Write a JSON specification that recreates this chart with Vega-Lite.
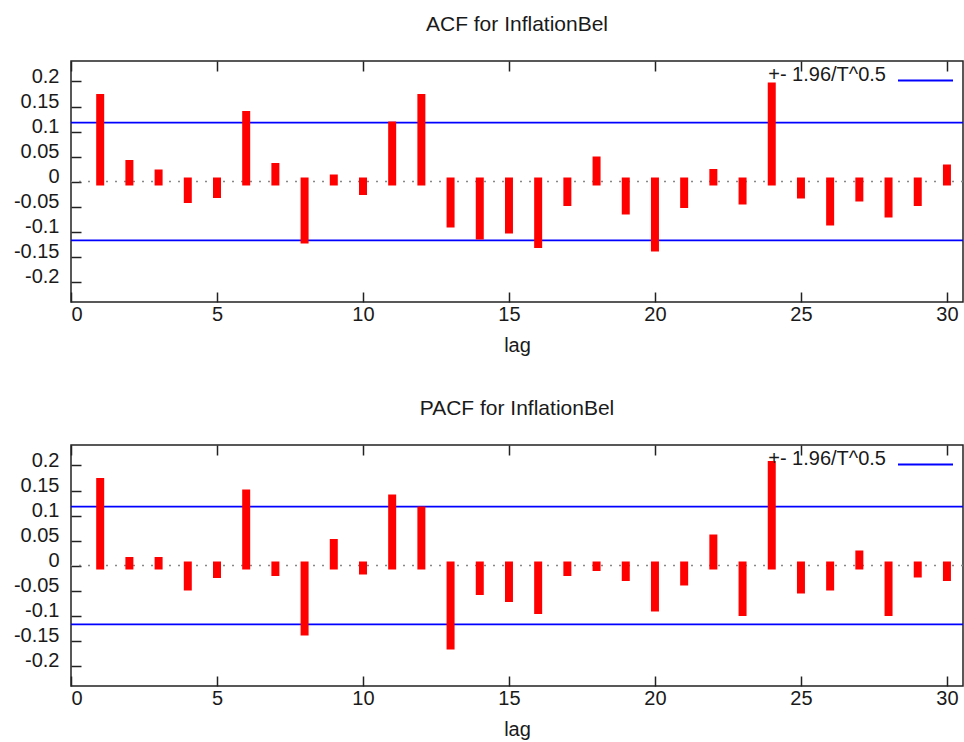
{
  "$schema": "https://vega.github.io/schema/vega-lite/v6.json",
  "background": "white",
  "padding": {"left": 12, "top": 13, "right": 2, "bottom": 2},
  "datasets": {
    "lags": [
      {"lag": 1, "acf": 0.167, "pacf": 0.167},
      {"lag": 2, "acf": 0.035, "pacf": 0.009},
      {"lag": 3, "acf": 0.016, "pacf": 0.009},
      {"lag": 4, "acf": -0.035, "pacf": -0.042},
      {"lag": 5, "acf": -0.025, "pacf": -0.017},
      {"lag": 6, "acf": 0.133, "pacf": 0.144},
      {"lag": 7, "acf": 0.029, "pacf": -0.013},
      {"lag": 8, "acf": -0.116, "pacf": -0.132},
      {"lag": 9, "acf": 0.006, "pacf": 0.045},
      {"lag": 10, "acf": -0.019, "pacf": -0.010},
      {"lag": 11, "acf": 0.112, "pacf": 0.134},
      {"lag": 12, "acf": 0.167, "pacf": 0.110},
      {"lag": 13, "acf": -0.084, "pacf": -0.160},
      {"lag": 14, "acf": -0.108, "pacf": -0.051},
      {"lag": 15, "acf": -0.096, "pacf": -0.065},
      {"lag": 16, "acf": -0.125, "pacf": -0.089},
      {"lag": 17, "acf": -0.041, "pacf": -0.013},
      {"lag": 18, "acf": 0.042, "pacf": -0.003},
      {"lag": 19, "acf": -0.058, "pacf": -0.023},
      {"lag": 20, "acf": -0.132, "pacf": -0.084},
      {"lag": 21, "acf": -0.045, "pacf": -0.032},
      {"lag": 22, "acf": 0.017, "pacf": 0.054},
      {"lag": 23, "acf": -0.038, "pacf": -0.093},
      {"lag": 24, "acf": 0.190, "pacf": 0.201},
      {"lag": 25, "acf": -0.026, "pacf": -0.048},
      {"lag": 26, "acf": -0.080, "pacf": -0.042},
      {"lag": 27, "acf": -0.032, "pacf": 0.022},
      {"lag": 28, "acf": -0.064, "pacf": -0.093},
      {"lag": 29, "acf": -0.041, "pacf": -0.016},
      {"lag": 30, "acf": 0.026, "pacf": -0.023}
    ],
    "bands": [
      {"band": "+- 1.96/T^0.5", "y": 0.1178},
      {"band": "+- 1.96/T^0.5", "y": -0.1178}
    ],
    "zero": [{"z": 0}]
  },
  "config": {
    "font": "Liberation Sans",
    "view": {"stroke": "#222", "strokeWidth": 1.5},
    "axis": {
      "labelFontSize": 20,
      "labelColor": "#1a1a1a",
      "labelOverlap": false,
      "titleFontSize": 20,
      "titleFontWeight": "normal",
      "titleColor": "#1a1a1a",
      "tickColor": "#222",
      "tickWidth": 1.5,
      "tickSize": -10,
      "domain": false,
      "grid": false,
      "minExtent": 0
    },
    "title": {"fontSize": 21, "fontWeight": "normal", "color": "#1a1a1a"},
    "legend": {
      "orient": "none",
      "legendX": 826,
      "legendY": -9,
      "symbolType": "stroke",
      "symbolSize": 3025,
      "symbolStrokeWidth": 1.8,
      "labelFontSize": 20,
      "labelColor": "#1a1a1a",
      "labelAlign": "right",
      "labelBaseline": "alphabetic",
      "labelOffset": -68,
      "padding": 0
    }
  },
  "spacing": 41,
  "resolve": {"scale": {"color": "independent"}, "legend": {"color": "independent"}},
  "vconcat": [
    {
      "title": {"text": "ACF for InflationBel", "baseline": "alphabetic", "offset": 0},
      "width": 892,
      "height": 241,
      "resolve": {"axis": {"x": "independent"}},
      "layer": [
        {
          "data": {"name": "zero"},
          "mark": {"type": "rule", "color": "#888", "strokeDash": [2, 7], "strokeWidth": 1.5},
          "encoding": {
            "y": {"field": "z", "type": "quantitative", "scale": {"domain": [-0.241, 0.241], "nice": false, "zero": false},
              "axis": {"title": null, "values": [-0.2, -0.15, -0.1, -0.05, 0, 0.05, 0.1, 0.15, 0.2], "labelExpr": "datum.value + ''", "labelPadding": 22, "labelOffset": -5}}
          }
        },
        {
          "data": {"name": "bands"},
          "mark": {"type": "rule", "strokeWidth": 1.8},
          "encoding": {
            "y": {"field": "y", "type": "quantitative",
              "axis": {"title": null, "values": [-0.2, -0.15, -0.1, -0.05, 0, 0.05, 0.1, 0.15, 0.2], "labelExpr": "datum.value + ''", "labelPadding": 22, "labelOffset": -5}},
            "x": {"datum": 0, "type": "quantitative", "scale": {"domain": [0, 30.55], "nice": false, "zero": false},
              "axis": {"orient": "top", "labels": false, "title": null, "values": [0, 5, 10, 15, 20, 25, 30]}},
            "x2": {"datum": 30.55},
            "color": {"field": "band", "type": "nominal", "scale": {"range": ["#0000ff"]}, "legend": {"title": null}}
          }
        },
        {
          "data": {"name": "lags"},
          "mark": {"type": "rule", "color": "#ff0000", "strokeWidth": 8, "strokeCap": "square"},
          "encoding": {
            "x": {"field": "lag", "type": "quantitative", "scale": {"domain": [0, 30.55], "nice": false, "zero": false},
              "axis": {"orient": "bottom", "title": "lag", "values": [0, 5, 10, 15, 20, 25, 30], "labelPadding": 12, "titlePadding": 11}},
            "y": {"field": "acf", "type": "quantitative",
              "axis": {"title": null, "values": [-0.2, -0.15, -0.1, -0.05, 0, 0.05, 0.1, 0.15, 0.2], "labelExpr": "datum.value + ''", "labelPadding": 22, "labelOffset": -5}},
            "y2": {"datum": 0}
          }
        }
      ]
    },
    {
      "title": {"text": "PACF for InflationBel", "baseline": "alphabetic", "offset": 0},
      "width": 892,
      "height": 241,
      "resolve": {"axis": {"x": "independent"}},
      "layer": [
        {
          "data": {"name": "zero"},
          "mark": {"type": "rule", "color": "#888", "strokeDash": [2, 7], "strokeWidth": 1.5},
          "encoding": {
            "y": {"field": "z", "type": "quantitative", "scale": {"domain": [-0.241, 0.241], "nice": false, "zero": false},
              "axis": {"title": null, "values": [-0.2, -0.15, -0.1, -0.05, 0, 0.05, 0.1, 0.15, 0.2], "labelExpr": "datum.value + ''", "labelPadding": 22, "labelOffset": -5}}
          }
        },
        {
          "data": {"name": "bands"},
          "mark": {"type": "rule", "strokeWidth": 1.8},
          "encoding": {
            "y": {"field": "y", "type": "quantitative",
              "axis": {"title": null, "values": [-0.2, -0.15, -0.1, -0.05, 0, 0.05, 0.1, 0.15, 0.2], "labelExpr": "datum.value + ''", "labelPadding": 22, "labelOffset": -5}},
            "x": {"datum": 0, "type": "quantitative", "scale": {"domain": [0, 30.55], "nice": false, "zero": false},
              "axis": {"orient": "top", "labels": false, "title": null, "values": [0, 5, 10, 15, 20, 25, 30]}},
            "x2": {"datum": 30.55},
            "color": {"field": "band", "type": "nominal", "scale": {"range": ["#0000ff"]}, "legend": {"title": null}}
          }
        },
        {
          "data": {"name": "lags"},
          "mark": {"type": "rule", "color": "#ff0000", "strokeWidth": 8, "strokeCap": "square"},
          "encoding": {
            "x": {"field": "lag", "type": "quantitative", "scale": {"domain": [0, 30.55], "nice": false, "zero": false},
              "axis": {"orient": "bottom", "title": "lag", "values": [0, 5, 10, 15, 20, 25, 30], "labelPadding": 12, "titlePadding": 11}},
            "y": {"field": "pacf", "type": "quantitative",
              "axis": {"title": null, "values": [-0.2, -0.15, -0.1, -0.05, 0, 0.05, 0.1, 0.15, 0.2], "labelExpr": "datum.value + ''", "labelPadding": 22, "labelOffset": -5}},
            "y2": {"datum": 0}
          }
        }
      ]
    }
  ]
}
